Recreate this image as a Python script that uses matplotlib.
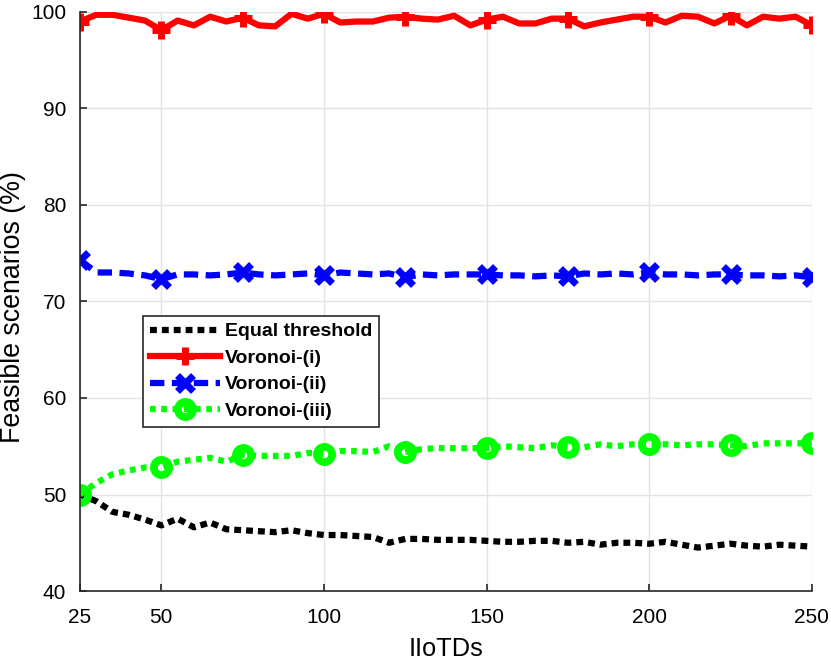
import matplotlib
matplotlib.use("Agg")
import matplotlib.pyplot as plt
import numpy as np

plt.rcParams['font.family'] = ['Liberation Sans', 'DejaVu Sans']

x = list(range(25, 251, 5))

equal_threshold = [50.0, 49.3, 48.2, 47.9, 47.4, 46.8, 47.5, 46.6, 47.1, 46.4,
                   46.3, 46.2, 46.1, 46.3, 46.0, 45.8, 45.8, 45.7, 45.6, 45.0,
                   45.4, 45.4, 45.3, 45.3, 45.3, 45.2, 45.1, 45.1, 45.2, 45.2,
                   45.0, 45.1, 44.8, 45.0, 45.0, 44.9, 45.1, 44.8, 44.5, 44.7,
                   44.9, 44.7, 44.6, 44.8, 44.7, 44.6]
voronoi_i = [99.0, 99.7, 99.7, 99.4, 99.1, 98.1, 99.1, 98.6, 99.5, 99.0,
             99.4, 98.6, 98.5, 99.8, 99.3, 99.8, 98.9, 99.0, 99.0, 99.4,
             99.5, 99.3, 99.2, 99.6, 98.6, 99.2, 99.5, 98.8, 98.8, 99.3,
             99.3, 98.5, 98.9, 99.2, 99.5, 99.5, 98.9, 99.6, 99.5, 98.8,
             99.6, 98.6, 99.5, 99.3, 99.5, 98.6]
voronoi_ii = [74.3, 73.0, 73.0, 72.9, 72.7, 72.3, 72.8, 72.8, 72.7, 72.8,
              73.0, 72.8, 72.7, 72.8, 72.9, 72.7, 73.0, 72.9, 72.8, 72.9,
              72.5, 72.8, 72.7, 72.8, 72.8, 72.8, 72.7, 72.7, 72.6, 72.7,
              72.6, 72.9, 72.8, 72.9, 72.8, 73.0, 72.8, 72.8, 72.7, 72.8,
              72.8, 72.7, 72.7, 72.6, 72.7, 72.5]
voronoi_iii = [50.0, 51.2, 52.1, 52.5, 52.8, 52.8, 53.4, 53.6, 53.8, 53.4,
               54.1, 54.0, 54.0, 54.0, 54.3, 54.2, 54.5, 54.5, 54.4, 55.0,
               54.4, 54.7, 54.8, 54.8, 54.8, 54.8, 55.0, 54.9, 54.8, 55.1,
               54.9, 54.9, 55.2, 55.0, 55.2, 55.2, 55.2, 55.1, 55.2, 55.2,
               55.1, 55.0, 55.3, 55.3, 55.3, 55.3]

labels = ["Equal threshold", "Voronoi-(i)", "Voronoi-(ii)", "Voronoi-(iii)"]
xticks = [25, 50, 100, 150, 200, 250]
yticks = [40, 50, 60, 70, 80, 90, 100]

fig = plt.figure(figsize=(8.31, 6.6), dpi=100)
ax = fig.add_axes([0.0963, 0.1045, 0.8807, 0.8775])

lw = 4.5
ax.plot(x, equal_threshold, color='black', linestyle=(0, (1.1, 0.8)), linewidth=lw,
        label=labels[0])
ax.plot(x, voronoi_i, color='red', linestyle='-', linewidth=lw, marker='+',
        markersize=13, markeredgewidth=5, markevery=5, label=labels[1])
ax.plot(x, voronoi_ii, color='blue', linestyle=(0, (2.3, 1.2)), linewidth=lw, marker='x',
        markersize=11, markeredgewidth=5, markevery=5, label=labels[2])
ax.plot(x, voronoi_iii, color='#00ff00', linestyle=(0, (0.9, 0.9)), linewidth=lw, marker='o',
        markersize=11, markeredgewidth=5.5, markerfacecolor='none', markevery=5,
        label=labels[3])

ax.set_xlim(25, 250)
ax.set_ylim(40, 100)
ax.set_xticks(xticks)
ax.set_yticks(yticks)
ax.grid(True, color='#e3e3e3', linewidth=1)
ax.set_axisbelow(True)
for s in ['top', 'right']:
    ax.spines[s].set_visible(False)
for s in ['left', 'bottom']:
    ax.spines[s].set_color('#262626')
    ax.spines[s].set_linewidth(1.2)
ax.tick_params(direction='in', length=5, width=1.2, labelsize=15, colors='#262626',
               labelcolor='black')
ax.tick_params(axis='x', pad=12)
ax.tick_params(axis='y', pad=10)

ax.set_xlabel("IIoTDs", fontsize=18.3)
ax.xaxis.label.set_va('center')
ax.xaxis.set_label_coords(0.5, -0.100)
ax.set_ylabel("Feasible scenarios (%)", fontsize=19.3)
ax.yaxis.label.set_va('center')
ax.yaxis.set_label_coords(-0.092, 0.491)

leg = ax.legend(loc='upper left', bbox_to_anchor=(0.086, 0.475), numpoints=1,
                prop={'size': 14, 'weight': 'bold'}, handlelength=3.6,
                handletextpad=0.27, borderpad=0.35, labelspacing=0.46,
                borderaxespad=0, fancybox=False, framealpha=1, edgecolor='#262626')
leg.get_frame().set_linewidth(1.2)

fig.savefig("out.png", dpi=100)
